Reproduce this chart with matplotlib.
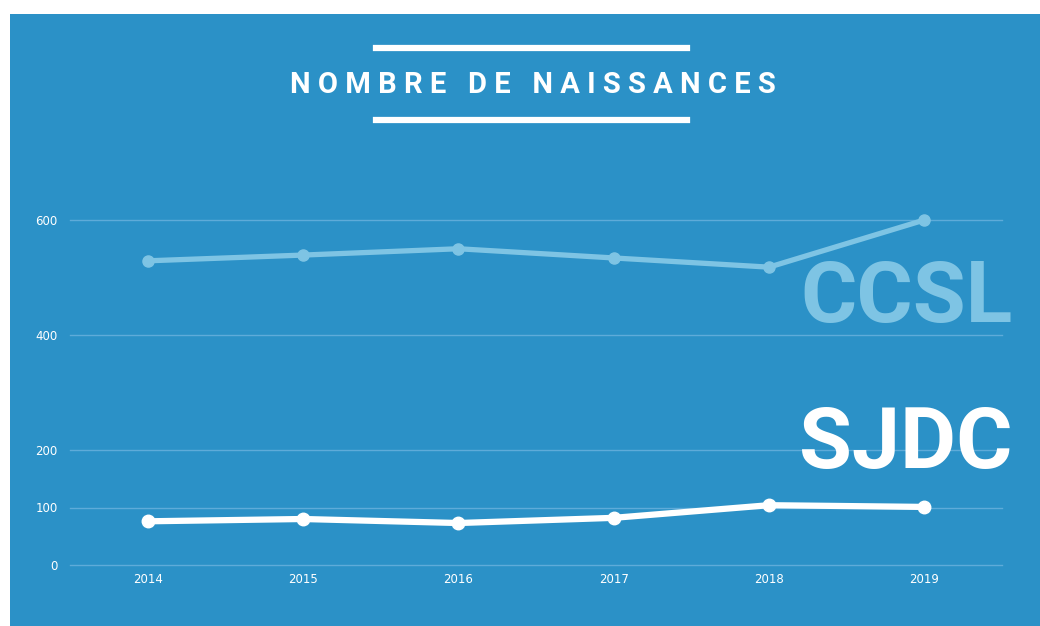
import matplotlib.pyplot as plt
from matplotlib.patches import Rectangle
from matplotlib.lines import Line2D

# data
years = [2014, 2015, 2016, 2017, 2018, 2019]
ccsl = [529, 539, 550, 534, 518, 600]
sjdc = [76, 80, 73, 82, 104, 101]
y_ticks = [0, 100, 200, 400, 600]
title = "NOMBRE DE NAISSANCES"

BG = "#2b91c7"
LIGHT = "#7ec4e4"
GRID = "#5eabd9"

W, H = 1040, 626
fig = plt.figure(figsize=(W / 100, H / 100), dpi=100)
fig.patch.set_facecolor("white")

# blue panel
fig.patches.append(Rectangle((10 / W, 0), 1 - 10 / W, 1 - 14 / H,
                             transform=fig.transFigure, facecolor=BG,
                             edgecolor="none", zorder=-5))

# title with bars above and below (letter-spaced by hand)
spaced = " ".join(title)
fig.text(533 / W, 1 - 93 / H, spaced, color="white", fontsize=21,
         fontweight="bold", ha="center", va="baseline", family="Roboto")
for yb in (48, 120):
    fig.lines.append(Line2D([376 / W, 687 / W], [1 - yb / H, 1 - yb / H],
                            transform=fig.transFigure, color="white", lw=4.5))

# plot area: x 70..1002, y 565 (0) .. 220 (600)
left, right = 70 / W, 1002 / W
bottom, top = 1 - 565 / H, 1 - 220 / H
ax = fig.add_axes([left, bottom, right - left, top - bottom])
ax.set_facecolor("none")
ax.set_zorder(2)
ax.set_xlim(2013.5, 2019.5)
ax.set_ylim(0, 600)
for s in ax.spines.values():
    s.set_visible(False)

for v in y_ticks:
    ax.axhline(v, color=GRID, lw=1.0, zorder=1, clip_on=False)

ax.plot(years, ccsl, color=LIGHT, lw=3.8, marker="o", markersize=8,
        solid_capstyle="round", zorder=3, clip_on=False)
ax.plot(years, sjdc, color="white", lw=4.5, marker="o", markersize=9,
        solid_capstyle="round", zorder=3, clip_on=False)

ax.set_xticks(years)
ax.set_xticklabels([str(y) for y in years])
ax.set_yticks(y_ticks)
ax.set_yticklabels([str(v) for v in y_ticks])
ax.tick_params(length=0, colors="white", labelsize=8.5, pad=6)
ax.tick_params(axis="y", pad=9)

# series labels
fig.text(906 / W, 1 - 322 / H, "CCSL", color=LIGHT, fontsize=62,
         fontweight="bold", ha="center", va="baseline", family="Roboto")
fig.text(906 / W, 1 - 468 / H, "SJDC", color="white", fontsize=62,
         fontweight="bold", ha="center", va="baseline", family="Roboto")

fig.savefig("out.png", dpi=100)
